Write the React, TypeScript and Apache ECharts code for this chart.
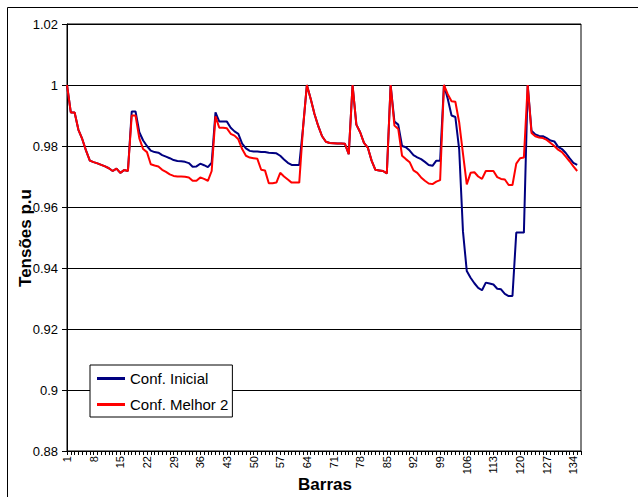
import React, { useEffect, useRef } from "react";
import * as echarts from "echarts";

const categories: string[] = Array.from({ length: 136 }, (_, i) => String(i + 1));

const seriesNames = ["Conf. Inicial", "Conf. Melhor 2"];
const xTitle = "Barras";
const yTitle = "Tensões p.u";

const inicial = [
  1.000, 0.991, 0.991, 0.9853, 0.9823, 0.9785, 0.9752, 0.9747, 0.9743, 0.9738,
  0.9733, 0.9727, 0.9718, 0.9726, 0.9712, 0.9721, 0.9718, 0.9913, 0.9913, 0.9845,
  0.9818, 0.9800, 0.9785, 0.9780, 0.9778, 0.9770, 0.9765, 0.9760, 0.9754, 0.9751,
  0.9750, 0.9748, 0.9744, 0.9732, 0.9733, 0.9742, 0.9737, 0.9731, 0.9745, 0.9910,
  0.9880, 0.9880, 0.9880, 0.9860, 0.9848, 0.9840, 0.9808, 0.9792, 0.9784, 0.9782,
  0.9782, 0.9780, 0.9780, 0.9778, 0.9777, 0.9776, 0.9768, 0.9756, 0.9745, 0.9738,
  0.9738, 0.9738, 0.9860, 1.000, 0.9955, 0.9905, 0.9865, 0.9832, 0.9814, 0.9810,
  0.9809, 0.9808, 0.9808, 0.9807, 0.9773, 1.000, 0.9870, 0.9845, 0.9810, 0.9795,
  0.9752, 0.9722, 0.9720, 0.9718, 0.9710, 1.000, 0.9880, 0.9870, 0.9800, 0.9796,
  0.9785, 0.9770, 0.9763, 0.9757, 0.9748, 0.9738, 0.9735, 0.9752, 0.9752, 1.000,
  0.9955, 0.9900, 0.9895, 0.9790, 0.9520, 0.9390, 0.9368, 0.9350, 0.9335, 0.9327,
  0.9352, 0.9349, 0.9346, 0.9332, 0.9330, 0.9315, 0.9308, 0.9308, 0.9516, 0.9516,
  0.9516, 1.000, 0.9850, 0.9838, 0.9833, 0.9832, 0.9826, 0.9818, 0.9815, 0.9797,
  0.9790, 0.9777, 0.9760, 0.9745, 0.9738,
];

const melhor2 = [
  1.000, 0.991, 0.991, 0.9853, 0.9823, 0.9785, 0.9752, 0.9747, 0.9743, 0.9738,
  0.9733, 0.9727, 0.9718, 0.9726, 0.9712, 0.9721, 0.9718, 0.9900, 0.9900, 0.9825,
  0.9790, 0.9780, 0.9740, 0.9736, 0.9733, 0.9722, 0.9715, 0.9707, 0.9702, 0.9700,
  0.9700, 0.9699, 0.9697, 0.9686, 0.9686, 0.9697, 0.9692, 0.9686, 0.9718, 0.9897,
  0.9860, 0.9860, 0.9858, 0.9840, 0.9834, 0.9822, 0.9790, 0.9768, 0.9762, 0.9760,
  0.9758, 0.9722, 0.9720, 0.9678, 0.9678, 0.9680, 0.9712, 0.9700, 0.9690, 0.9680,
  0.9680, 0.9680, 0.9860, 1.000, 0.9955, 0.9905, 0.9865, 0.9832, 0.9814, 0.9810,
  0.9809, 0.9808, 0.9808, 0.9807, 0.9773, 1.000, 0.9870, 0.9845, 0.9810, 0.9795,
  0.9752, 0.9722, 0.9720, 0.9718, 0.9710, 1.000, 0.9867, 0.9856, 0.9768, 0.9757,
  0.9747, 0.9720, 0.9712, 0.9697, 0.9686, 0.9677, 0.9675, 0.9683, 0.9688, 1.000,
  0.9970, 0.9947, 0.9945, 0.9878, 0.9775, 0.9674, 0.9712, 0.9714, 0.9700, 0.9692,
  0.9718, 0.9718, 0.9718, 0.9698, 0.9692, 0.9690, 0.9672, 0.9672, 0.9742, 0.9760,
  0.9762, 1.000, 0.9843, 0.9832, 0.9828, 0.9826, 0.9820, 0.9810, 0.9800, 0.9788,
  0.9780, 0.9765, 0.9750, 0.9733, 0.9718,
];

const FONT = "'Liberation Sans', Arial, sans-serif";

export default function App() {
  const ref = useRef<HTMLDivElement>(null);
  useEffect(() => {
    if (!ref.current) return;
    const chart = echarts.init(ref.current, null, { renderer: "svg" });
    chart.setOption({
      animation: false,
      backgroundColor: "#fff",
      textStyle: { fontFamily: FONT },
      grid: {
        left: 67,
        top: 24,
        right: 57,
        bottom: 46,
        containLabel: false,
        outerBoundsMode: "none",
        show: true,
        borderColor: "#000",
        borderWidth: 1,
        backgroundColor: "transparent",
      },
      legend: {
        orient: "vertical",
        left: 90,
        top: 365,
        padding: [6, 4, 5, 7],
        itemGap: 11,
        itemWidth: 28,
        itemHeight: 3,
        icon: "rect",
        backgroundColor: "#fff",
        borderColor: "#000",
        borderWidth: 1,
        data: seriesNames,
        textStyle: { fontSize: 15, color: "#000", fontFamily: FONT, lineHeight: 14 },
      },
      xAxis: {
        type: "category",
        data: categories,
        boundaryGap: false,
        axisLine: { lineStyle: { color: "#000", width: 1 } },
        axisTick: { show: true, interval: 0, length: 4, lineStyle: { color: "#000" } },
        axisLabel: {
          interval: 6,
          rotate: 90,
          fontSize: 11,
          color: "#000",
          fontFamily: FONT,
          margin: 5,
        },
        splitLine: { show: false },
      },
      yAxis: {
        type: "value",
        min: 0.88,
        max: 1.02,
        interval: 0.02,
        axisLine: { show: true, lineStyle: { color: "#000", width: 1 } },
        axisTick: { show: true, length: 5, lineStyle: { color: "#000" } },
        axisLabel: {
          fontSize: 13,
          color: "#000",
          fontFamily: FONT,
          margin: 9,
          formatter: (v: number) => String(parseFloat(v.toFixed(2))),
        },
        splitLine: { show: true, lineStyle: { color: "#000", width: 1 } },
      },
      series: [
        {
          name: seriesNames[0],
          type: "line",
          data: inicial,
          symbol: "none",
          lineStyle: { color: "#000080", width: 2 },
          itemStyle: { color: "#000080" },
        },
        {
          name: seriesNames[1],
          type: "line",
          data: melhor2,
          symbol: "none",
          lineStyle: { color: "#ff0000", width: 2 },
          itemStyle: { color: "#ff0000" },
        },
      ],
      graphic: [
        {
          type: "rect",
          shape: { x: 7.5, y: 7.5, width: 660, height: 520 },
          style: { fill: "none", stroke: "#000", lineWidth: 1 },
          silent: true,
        },
        {
          type: "text",
          x: 325,
          y: 484,
          style: {
            text: xTitle,
            fontSize: 17,
            fontWeight: "bold",
            fontFamily: FONT,
            fill: "#000",
            align: "center",
            verticalAlign: "middle",
          },
        },
        {
          type: "text",
          x: 25,
          y: 238,
          rotation: Math.PI / 2,
          style: {
            text: yTitle,
            fontSize: 17,
            fontWeight: "bold",
            fontFamily: FONT,
            fill: "#000",
            align: "center",
            verticalAlign: "middle",
          },
        },
      ],
    });
    return () => chart.dispose();
  }, []);
  return (
    <div
      ref={ref}
      style={{ position: "fixed", left: 0, top: 0, width: 638, height: 497 }}
    />
  );
}
